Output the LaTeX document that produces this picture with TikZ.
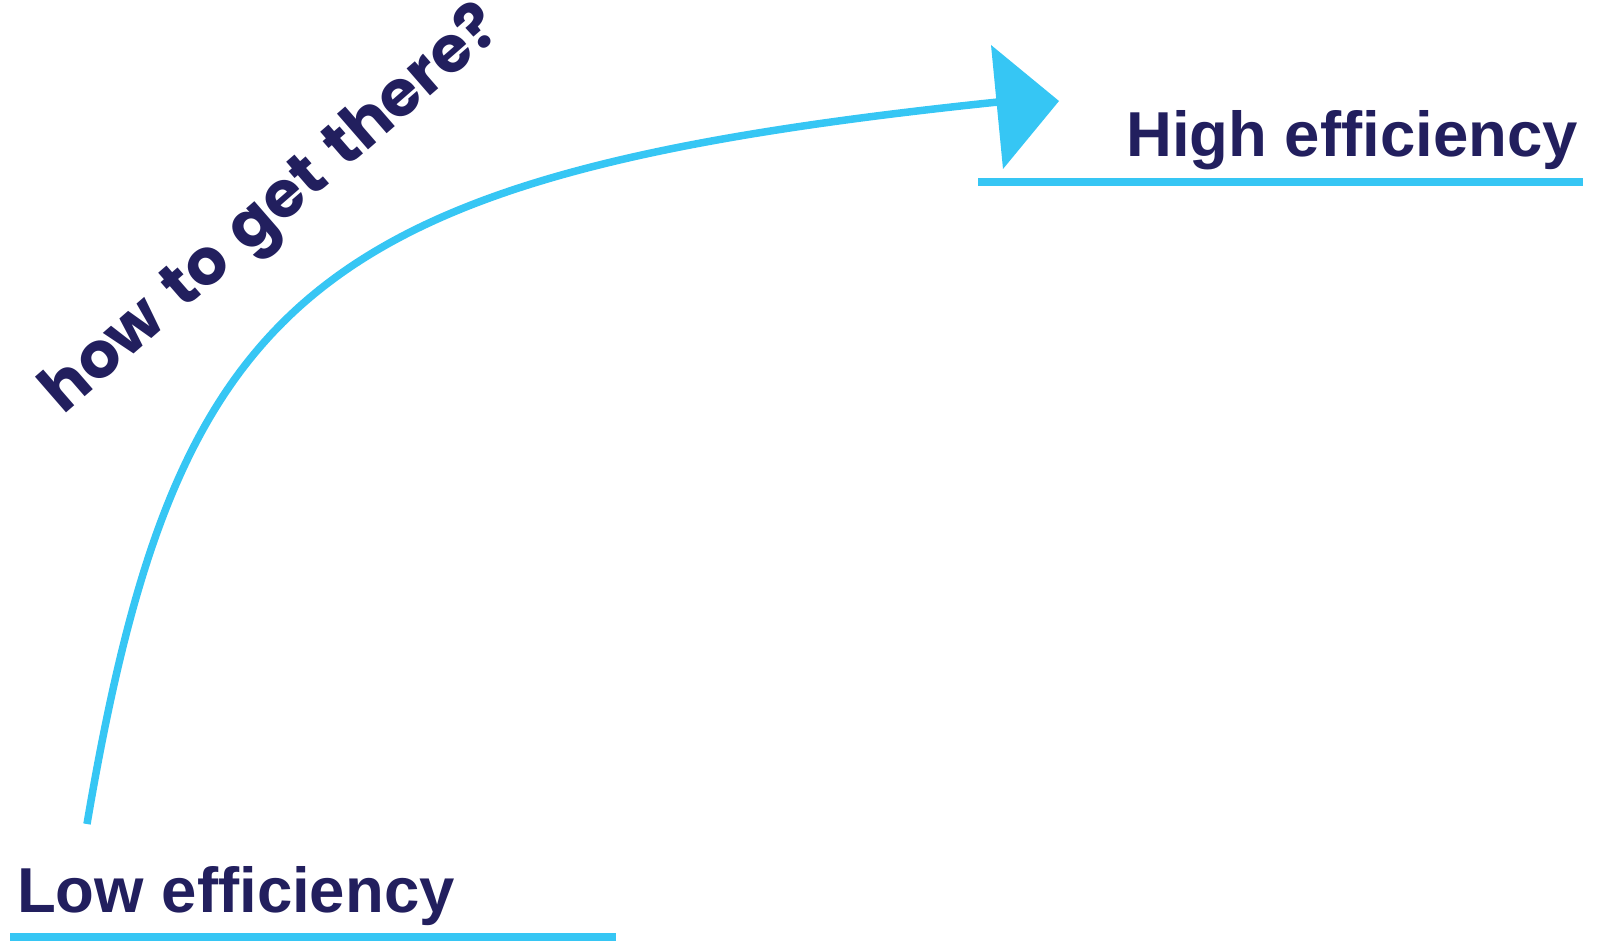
\documentclass[tikz,border=0pt]{standalone}
\usepackage{fontspec}
\setmainfont{Liberation Sans}
\newfontfamily\poppinsfont{Poppins}[WordSpace=1.45]
\definecolor{navy}{HTML}{221F5E}
\definecolor{skyline}{HTML}{36C6F4}
\begin{document}
\begin{tikzpicture}[x=1pt,y=-1pt,
  label/.style={inner sep=0pt, anchor=base west, text=navy, font=\fontsize{63.5}{70}\selectfont\bfseries},
  slanted/.style={inner sep=0pt, anchor=base west, text=navy, rotate=41, font=\poppinsfont\fontsize{64}{70}\selectfont\bfseries},
  bar/.style={fill=skyline, draw=none},
  curve/.style={draw=skyline, line width=7.5pt}]
\useasboundingbox (0,0) rectangle (1606,941);
% labels
\node[label] (low) at (17,912) {Low efficiency};
\node[label] (high) at (1126,157) {High efficiency};
\node[slanted] (how) at (63.3,415.3) {how to get there?};
% underlines
\fill[bar] (10,933) rectangle (616,941);
\fill[bar] (978,178) rectangle (1583,186);
% curve
\coordinate (start) at (87,824);
\coordinate (end) at (998,102);
\draw[curve] (start) .. controls (177,294) and (308,174) .. (end);
% arrowhead
\fill[skyline] (991,45) -- (1059,101) -- (1003,169) -- cycle;
\end{tikzpicture}
\end{document}
